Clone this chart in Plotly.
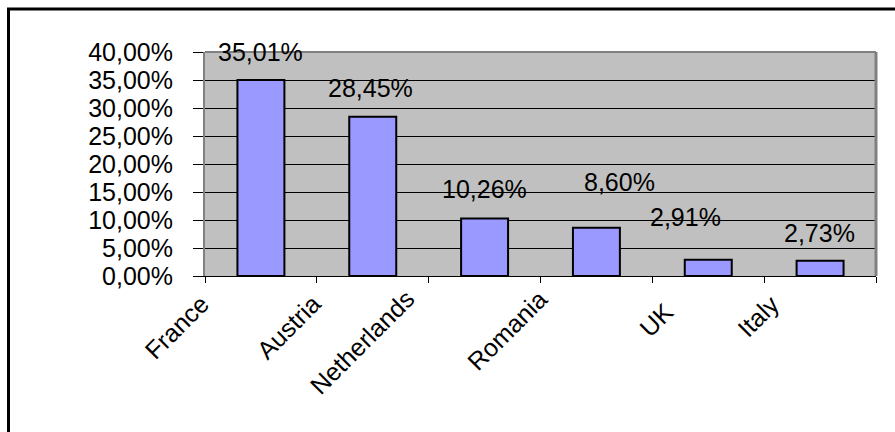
import plotly.graph_objects as go

# ---- data ----
countries = ["France", "Austria", "Netherlands", "Romania", "UK", "Italy"]
shares = [0.3501, 0.2845, 0.1026, 0.0860, 0.0291, 0.0273]
y_ticks = [0.0, 0.05, 0.10, 0.15, 0.20, 0.25, 0.30, 0.35, 0.40]

# ---- style / layout settings ----
W, H = 895, 432
ML, MR, MT, MB = 205, 19, 52, 156
PW, PH = W - ML - MR, H - MT - MB
FONT = "Arial, Liberation Sans, sans-serif"
FS = 25

# data-label offsets (px) as placed in the original chart
lab_dx = [0, -2, 0, 23, -23, -1]
lab_dy = [28, 29, 30, 46, 43, 28]
# category-label end offsets (px) from category boundary
cat_dx = [12, 12, -6, 15, 29, 23]
cat_dy = [11, 11, 6, 6, 19, 11]

fig = go.Figure()
fig.add_trace(go.Bar(
    x=countries, y=shares, width=0.42,
    marker=dict(color="#9999FF", line=dict(color="black", width=2)),
    hoverinfo="skip", showlegend=False,
))

annotations = []
for i, (c, v) in enumerate(zip(countries, shares)):
    txt = f"{v*100:.2f}%".replace(".", ",")
    annotations.append(dict(
        x=i, y=v, xref="x", yref="y", text=txt, showarrow=False,
        xanchor="center", yanchor="middle",
        xshift=lab_dx[i], yshift=lab_dy[i],
        font=dict(family=FONT, size=FS, color="black"),
    ))
    annotations.append(dict(
        x=i - 0.5, y=0, xref="x", yref="paper", text=c, showarrow=False,
        xanchor="right", yanchor="top", textangle=-45,
        xshift=cat_dx[i], yshift=-cat_dy[i],
        font=dict(family=FONT, size=FS, color="black"),
    ))

def px_to_paper_x(p):
    return (p - ML) / PW

def px_to_paper_y(p):
    return (H - MB - p) / PH

shapes = [
    # outer chart frame (only top/left visible)
    dict(type="rect", xref="paper", yref="paper",
         x0=px_to_paper_x(8.5), x1=px_to_paper_x(W + 20),
         y0=px_to_paper_y(H + 20), y1=px_to_paper_y(9),
         line=dict(color="black", width=3), layer="above"),
    # plot area border top & right
    dict(type="line", xref="paper", yref="paper", x0=0, x1=1, y0=1, y1=1,
         line=dict(color="#808080", width=2), layer="above"),
    dict(type="line", xref="paper", yref="paper", x0=1, x1=1, y0=0, y1=1,
         line=dict(color="#808080", width=3), layer="above"),
]

fig.update_layout(
    width=W, height=H,
    margin=dict(l=ML, r=MR, t=MT, b=MB, pad=0),
    paper_bgcolor="white", plot_bgcolor="#C0C0C0",
    separators=", ",
    font=dict(family=FONT, size=FS, color="black"),
    annotations=annotations, shapes=shapes,
    bargap=0.58,
)
fig.update_xaxes(
    type="category", range=[-0.5, 5.5], tickson="boundaries",
    ticks="outside", ticklen=6, tickcolor="black", tickwidth=1,
    showticklabels=False, showgrid=False,
    showline=True, linecolor="black", linewidth=1, zeroline=False,
)
fig.update_yaxes(
    range=[0, 0.40], tickvals=y_ticks, tickformat=".2%",
    ticks="outside", ticklen=10, tickcolor="black", tickwidth=1,
    showgrid=True, gridcolor="black", gridwidth=1,
    showline=True, linecolor="#808080", linewidth=2, zeroline=False,
    ticklabelstandoff=15,
    tickfont=dict(family=FONT, size=FS, color="black"),
)

fig.write_html("out.html")
